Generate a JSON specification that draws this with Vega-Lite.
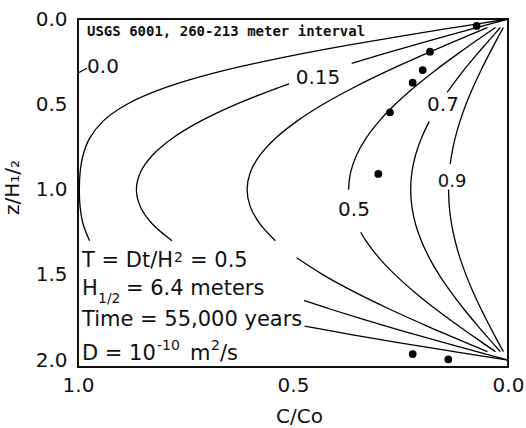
{
  "$schema": "https://vega.github.io/schema/vega-lite/v6.json",
  "width": 430,
  "height": 348,
  "autosize": {"type": "none"},
  "padding": {"left": 78, "top": 19, "right": 18, "bottom": 61},
  "background": "white",
  "config": {"view": {"stroke": "#111", "strokeWidth": 2}, "font": "DejaVu Sans"},
  "datasets": {
    "curves": [
      {"s":"A1","z":0,"C":0},{"s":"A1","z":0.05,"C":0.1256},{"s":"A1","z":0.1,"C":0.2482},{"s":"A1","z":0.15,"C":0.3648},{"s":"A1","z":0.2,"C":0.4729},{"s":"A1","z":0.3,"C":0.6572},{"s":"A1","z":0.4,"C":0.7941},{"s":"A1","z":0.5,"C":0.8861},{"s":"A1","z":0.6,"C":0.9422},{"s":"A1","z":0.7,"C":0.9731},{"s":"A1","z":0.8,"C":0.9884},{"s":"A1","z":0.9,"C":0.9951},{"s":"A1","z":1.0,"C":0.9969},{"s":"A1","z":1.1,"C":0.9951},{"s":"A1","z":1.2,"C":0.9884},{"s":"A1","z":1.3,"C":0.9731},
      {"s":"A2","z":1.8,"C":0.4729},{"s":"A2","z":1.85,"C":0.3648},{"s":"A2","z":1.9,"C":0.2482},{"s":"A2","z":1.95,"C":0.1256},{"s":"A2","z":2.0,"C":0},
      {"s":"B1","z":0,"C":0},{"s":"B1","z":0.05,"C":0.0725},{"s":"B1","z":0.1,"C":0.1445},{"s":"B1","z":0.15,"C":0.2151},{"s":"B1","z":0.2,"C":0.284},{"s":"B1","z":0.26,"C":0.3635},
      {"s":"B2","z":0.38,"C":0.5091},{"s":"B2","z":0.4,"C":0.5313},{"s":"B2","z":0.5,"C":0.6326},{"s":"B2","z":0.6,"C":0.7161},{"s":"B2","z":0.7,"C":0.7812},{"s":"B2","z":0.8,"C":0.8274},{"s":"B2","z":0.9,"C":0.855},{"s":"B2","z":1.0,"C":0.8642},{"s":"B2","z":1.1,"C":0.855},{"s":"B2","z":1.2,"C":0.8274},{"s":"B2","z":1.3,"C":0.7812},
      {"s":"B3","z":1.65,"C":0.4746},{"s":"B3","z":1.7,"C":0.4142},{"s":"B3","z":1.8,"C":0.284},{"s":"B3","z":1.85,"C":0.2151},{"s":"B3","z":1.9,"C":0.1445},{"s":"B3","z":1.95,"C":0.0725},{"s":"B3","z":2.0,"C":0},
      {"s":"C1","z":0.05,"C":0.0478},{"s":"C1","z":0.1,"C":0.0953},{"s":"C1","z":0.15,"C":0.1421},{"s":"C1","z":0.2,"C":0.1881},{"s":"C1","z":0.3,"C":0.2763},{"s":"C1","z":0.4,"C":0.3575},{"s":"C1","z":0.5,"C":0.4299},{"s":"C1","z":0.6,"C":0.4915},{"s":"C1","z":0.7,"C":0.5411},{"s":"C1","z":0.8,"C":0.5773},{"s":"C1","z":0.9,"C":0.5994},{"s":"C1","z":1.0,"C":0.6068},{"s":"C1","z":1.1,"C":0.5994},{"s":"C1","z":1.2,"C":0.5773},{"s":"C1","z":1.3,"C":0.5411},
      {"s":"C2","z":1.4,"C":0.4915},{"s":"C2","z":1.5,"C":0.4299},{"s":"C2","z":1.6,"C":0.3575},{"s":"C2","z":1.7,"C":0.2763},{"s":"C2","z":1.8,"C":0.1881},{"s":"C2","z":1.85,"C":0.1421},{"s":"C2","z":1.9,"C":0.0953},{"s":"C2","z":1.95,"C":0.0478},
      {"s":"D1","z":0.05,"C":0.0291},{"s":"D1","z":0.1,"C":0.058},{"s":"D1","z":0.15,"C":0.0866},{"s":"D1","z":0.2,"C":0.1146},{"s":"D1","z":0.3,"C":0.1683},{"s":"D1","z":0.4,"C":0.2179},{"s":"D1","z":0.5,"C":0.2622},{"s":"D1","z":0.6,"C":0.3},{"s":"D1","z":0.7,"C":0.3304},{"s":"D1","z":0.8,"C":0.3526},{"s":"D1","z":0.9,"C":0.3662},{"s":"D1","z":1.0,"C":0.3708},
      {"s":"D2","z":1.25,"C":0.3426},{"s":"D2","z":1.3,"C":0.3304},{"s":"D2","z":1.4,"C":0.3},{"s":"D2","z":1.5,"C":0.2622},{"s":"D2","z":1.6,"C":0.2179},{"s":"D2","z":1.7,"C":0.1683},{"s":"D2","z":1.8,"C":0.1146},{"s":"D2","z":1.85,"C":0.0866},{"s":"D2","z":1.9,"C":0.058},{"s":"D2","z":1.95,"C":0.0291},
      {"s":"E1","z":0.05,"C":0.0178},{"s":"E1","z":0.1,"C":0.0354},{"s":"E1","z":0.15,"C":0.0528},{"s":"E1","z":0.2,"C":0.0699},{"s":"E1","z":0.3,"C":0.1028},{"s":"E1","z":0.43,"C":0.1415},
      {"s":"E2","z":0.6,"C":0.1831},{"s":"E2","z":0.7,"C":0.2017},{"s":"E2","z":0.8,"C":0.2153},{"s":"E2","z":0.9,"C":0.2236},{"s":"E2","z":1.0,"C":0.2263},{"s":"E2","z":1.1,"C":0.2236},{"s":"E2","z":1.2,"C":0.2153},{"s":"E2","z":1.3,"C":0.2017},{"s":"E2","z":1.4,"C":0.1831},{"s":"E2","z":1.5,"C":0.1601},{"s":"E2","z":1.6,"C":0.133},{"s":"E2","z":1.7,"C":0.1028},{"s":"E2","z":1.8,"C":0.0699},{"s":"E2","z":1.85,"C":0.0528},{"s":"E2","z":1.9,"C":0.0354},{"s":"E2","z":1.95,"C":0.0178},
      {"s":"F1","z":0.05,"C":0.0108},{"s":"F1","z":0.1,"C":0.0216},{"s":"F1","z":0.15,"C":0.0323},{"s":"F1","z":0.2,"C":0.0427},{"s":"F1","z":0.3,"C":0.0627},{"s":"F1","z":0.4,"C":0.0812},{"s":"F1","z":0.5,"C":0.0977},{"s":"F1","z":0.6,"C":0.1118},{"s":"F1","z":0.7,"C":0.1231},{"s":"F1","z":0.8,"C":0.1314},{"s":"F1","z":0.85,"C":0.1344},
      {"s":"F2","z":1.0,"C":0.1382},{"s":"F2","z":1.1,"C":0.1365},{"s":"F2","z":1.2,"C":0.1314},{"s":"F2","z":1.3,"C":0.1231},{"s":"F2","z":1.4,"C":0.1118},{"s":"F2","z":1.5,"C":0.0977},{"s":"F2","z":1.6,"C":0.0812},{"s":"F2","z":1.7,"C":0.0627},{"s":"F2","z":1.8,"C":0.0427},{"s":"F2","z":1.85,"C":0.0323},{"s":"F2","z":1.9,"C":0.0216},{"s":"F2","z":1.95,"C":0.0108}
    ],
    "dots": [
      {"C":0.0728,"z":0.041},{"C":0.1814,"z":0.1917},{"C":0.1984,"z":0.299},{"C":0.2217,"z":0.3734},
      {"C":0.2744,"z":0.5469},{"C":0.3016,"z":0.9086},{"C":0.2216,"z":1.964},{"C":0.1388,"z":1.995}
    ],
    "xTicks": [
      {"C":0.1},{"C":0.2},{"C":0.3},{"C":0.4},{"C":0.5},{"C":0.6},{"C":0.7},{"C":0.8},{"C":0.9}
    ],
    "bodyText": [
      {"C":0.9907,"z":1.4538,"label":"T = Dt/H"},
      {"C":0.7395,"z":1.4538,"label":"= 0.5"},
      {"C":0.9907,"z":1.6179,"label":"H"},
      {"C":0.8884,"z":1.6179,"label":"= 6.4 meters"},
      {"C":0.9907,"z":1.7996,"label":"Time = 55,000 years"},
      {"C":0.9907,"z":1.9989,"label":"D = 10"},
      {"C":0.7395,"z":1.9989,"label":"m"},
      {"C":0.6698,"z":1.9989,"label":"/s"}
    ],
    "smallText": [
      {"C":0.7767,"z":1.4245,"label":"2"},
      {"C":0.9535,"z":1.6648,"label":"1/2"},
      {"C":0.8163,"z":1.9403,"label":"-10"},
      {"C":0.6907,"z":1.9403,"label":"2"}
    ],
    "curveLabels": [
      {"C":0.4419,"z":0.3459,"label":"0.15"},
      {"C":0.1512,"z":0.5041,"label":"0.7"},
      {"C":0.3581,"z":1.1196,"label":"0.5"},
      {"C":0.9419,"z":0.2814,"label":"0.0"}
    ],
    "curveLabelsSmall": [
      {"C":0.1302,"z":0.9555,"label":"0.9"}
    ],
    "header": [
      {"C":0.9791,"z":0.0979,"label":"USGS 6001, 260-213 meter interval"}
    ],
    "leader": [
      {"C":1.0,"z":0.3166,"C2":0.9791,"z2":0.289}
    ]
  },
  "encoding": {
    "x": {
      "field": "C", "type": "quantitative",
      "scale": {"domain": [0, 1], "reverse": true, "nice": false, "zero": false},
      "axis": {
        "title": "C/Co",
        "values": [0, 0.5, 1.0],
        "format": ".1f",
        "ticks": false,
        "labelPadding": 8, "labelFlush": false, "labelOverlap": false,
        "labelFont": "DejaVu Sans", "labelFontSize": 20, "labelColor": "#111",
        "domain": false, "grid": false,
        "titleFont": "DejaVu Sans", "titleFontSize": 20, "titleFontWeight": "normal", "titleColor": "#111",
        "titleX": 221, "titleY": 55, "titleAlign": "center", "titleBaseline": "alphabetic"
      }
    },
    "y": {
      "field": "z", "type": "quantitative",
      "scale": {"domain": [0, 2.04], "reverse": true, "nice": false, "zero": false},
      "axis": {
        "title": "z/H₁/₂",
        "values": [0, 0.5, 1, 1.5, 2],
        "format": ".1f",
        "ticks": false,
        "labelPadding": 11, "labelFlush": false, "labelOverlap": false,
        "labelFont": "DejaVu Sans", "labelFontSize": 20, "labelColor": "#111",
        "domain": false, "grid": false,
        "titleFont": "DejaVu Sans", "titleFontSize": 20, "titleFontWeight": "normal", "titleColor": "#111",
        "titleAngle": 270, "titleX": -60, "titleY": 168, "titleAlign": "center", "titleBaseline": "alphabetic"
      }
    }
  },
  "layer": [
    {
      "data": {"name": "curves"},
      "mark": {"type": "line", "color": "#000", "strokeWidth": 1.3, "interpolate": "catmull-rom"},
      "encoding": {
        "detail": {"field": "s", "type": "nominal"},
        "order": {"field": "z", "type": "quantitative"}
      }
    },
    {
      "data": {"name": "xTicks"},
      "mark": {"type": "rule", "color": "#000", "strokeWidth": 1.6},
      "encoding": {
        "y": {"datum": 2.04},
        "y2": {"datum": 2.008}
      }
    },
    {
      "data": {"name": "dots"},
      "mark": {"type": "point", "filled": true, "color": "#000", "size": 60, "opacity": 1}
    },
    {
      "data": {"name": "leader"},
      "mark": {"type": "rule", "color": "#000", "strokeWidth": 1.2},
      "encoding": {
        "x2": {"field": "C2"},
        "y2": {"field": "z2"}
      }
    },
    {
      "data": {"name": "bodyText"},
      "mark": {"type": "text", "align": "left", "baseline": "alphabetic", "font": "DejaVu Sans", "fontSize": 21, "color": "#111"},
      "encoding": {"text": {"field": "label", "type": "nominal"}}
    },
    {
      "data": {"name": "smallText"},
      "mark": {"type": "text", "align": "left", "baseline": "alphabetic", "font": "DejaVu Sans", "fontSize": 14, "color": "#111"},
      "encoding": {"text": {"field": "label", "type": "nominal"}}
    },
    {
      "data": {"name": "curveLabels"},
      "mark": {"type": "text", "align": "center", "baseline": "middle", "font": "DejaVu Sans", "fontSize": 20, "color": "#111"},
      "encoding": {"text": {"field": "label", "type": "nominal"}}
    },
    {
      "data": {"name": "curveLabelsSmall"},
      "mark": {"type": "text", "align": "center", "baseline": "middle", "font": "DejaVu Sans", "fontSize": 18, "color": "#111"},
      "encoding": {"text": {"field": "label", "type": "nominal"}}
    },
    {
      "data": {"name": "header"},
      "mark": {"type": "text", "align": "left", "baseline": "alphabetic", "font": "DejaVu Sans Mono", "fontWeight": "bold", "fontSize": 14, "color": "#111"},
      "encoding": {"text": {"field": "label", "type": "nominal"}}
    }
  ]
}
